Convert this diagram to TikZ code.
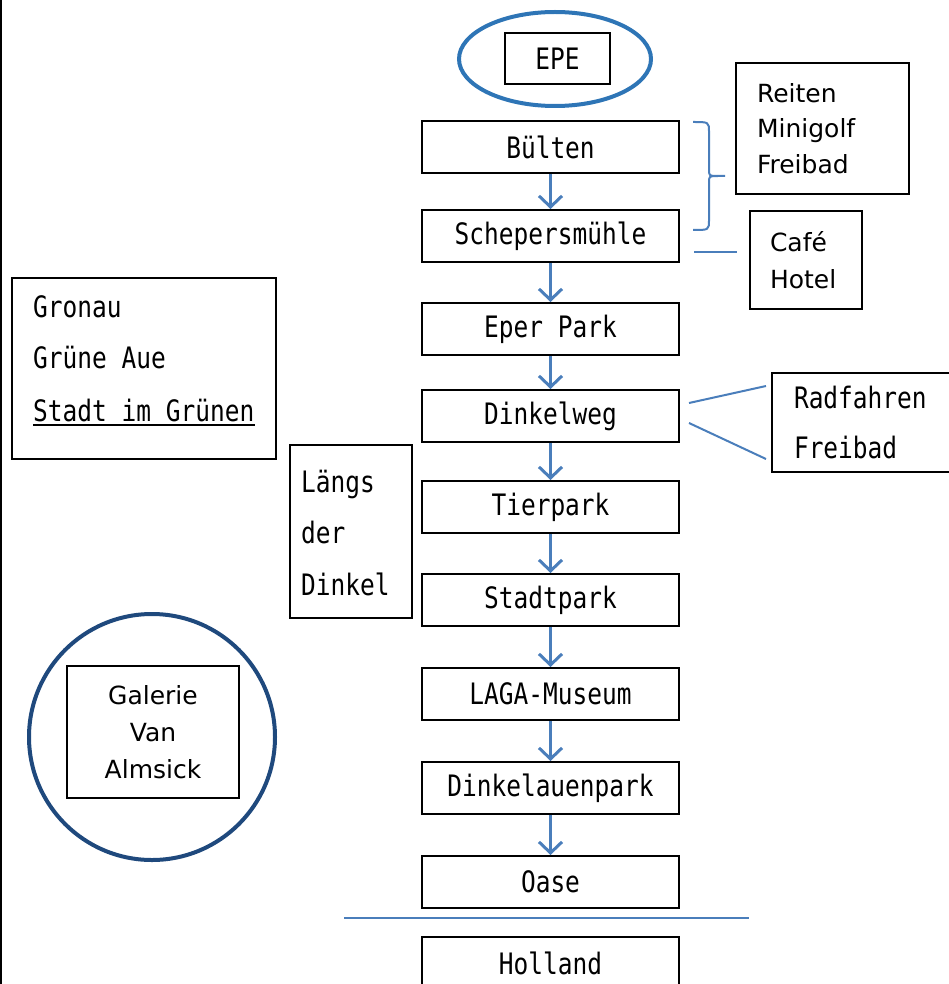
\documentclass[tikz,border=0pt]{standalone}
\usepackage{fontspec}
\setmainfont{DejaVu Sans}
\newfontfamily\flowfont[FakeStretch=0.83]{DejaVu Sans Mono}
\usetikzlibrary{shapes.geometric,arrows.meta,calc}

\definecolor{linkblue}{RGB}{74,126,187}
\definecolor{ringblue}{RGB}{46,117,182}
\definecolor{navyring}{RGB}{31,73,125}

\tikzset{
  stopbox/.style={draw, line width=2pt, minimum width=257pt, minimum height=52pt,
    inner sep=0pt, font=\flowfont\fontsize{29.5}{35}\selectfont},
  notebox/.style={draw, line width=2pt, inner ysep=0pt, anchor=north west,
    align=left, font=\fontsize{25}{35.5}\selectfont},
  flowtext/.style={anchor=base west, inner sep=0pt, font=\flowfont\fontsize{29.5}{35}\selectfont},
  flowarrow/.style={draw=linkblue, line width=3pt, -{Straight Barb[length=11pt,width=23pt]}},
  linkline/.style={draw=linkblue, line width=2pt}
}

\begin{document}
\begin{tikzpicture}[x=1pt,y=-1pt]
\useasboundingbox (0,0) rectangle (949,984);
\clip (0,0) rectangle (949,984);

% Left page border
\draw[line width=2pt] (1,0) -- (1,984);

% Start in an oval
\node[draw=ringblue, line width=4pt, ellipse, minimum width=192pt, minimum height=94pt] (epering) at (555,59) {};
\node[stopbox, minimum width=105pt, minimum height=51pt] (epe) at (557.5,58.5) {EPE};

% Route along the river
\node[stopbox] (buelten)    at (550.5,147) {Bülten};
\node[stopbox] (schepers)   at (550.5,236) {Schepersmühle};
\node[stopbox] (eperpark)   at (550.5,329) {Eper Park};
\node[stopbox] (dinkelweg)  at (550.5,416) {Dinkelweg};
\node[stopbox] (tierpark)   at (550.5,507) {Tierpark};
\node[stopbox] (stadtpark)  at (550.5,600) {Stadtpark};
\node[stopbox] (laga)       at (550.5,694) {LAGA-Museum};
\node[stopbox] (dinkelauen) at (550.5,788) {Dinkelauenpark};
\node[stopbox] (oase)       at (550.5,882) {Oase};
\node[stopbox] (holland)    at (550.5,963) {Holland};

\draw[flowarrow] (buelten.south)    -- (schepers.north);
\draw[flowarrow] (schepers.south)   -- (eperpark.north);
\draw[flowarrow] (eperpark.south)   -- (dinkelweg.north);
\draw[flowarrow] (dinkelweg.south)  -- (tierpark.north);
\draw[flowarrow] (tierpark.south)   -- (stadtpark.north);
\draw[flowarrow] (stadtpark.south)  -- (laga.north);
\draw[flowarrow] (laga.south)       -- (dinkelauen.north);
\draw[flowarrow] (dinkelauen.south) -- (oase.north);

% Border line
\coordinate (borderL) at (344,918);
\coordinate (borderR) at (749,918);
\draw[linkline] (borderL) -- (borderR);

% Side boxes on the right
\node[notebox, minimum width=173pt, minimum height=131pt, text width=131pt, inner xsep=21pt] (reiten) at (735,62) {Reiten\\Minigolf\\Freibad};
\node[notebox, minimum width=112pt, minimum height=98pt, text width=72pt, inner xsep=20pt,
  font=\fontsize{25}{37}\selectfont] (cafe) at (749,210) {Café\\Hotel};
\node[notebox, minimum width=200pt, minimum height=99pt, text width=156pt, inner xsep=22pt,
  font=\flowfont\fontsize{29.5}{50}\selectfont] (radfahren) at (771,372) {Radfahren\\Freibad};

% Brace for Bülten and Schepersmühle
\coordinate (braceA) at ($(buelten.east)+(13,-25)$);
\coordinate (braceB) at ($(schepers.east)+(13,-6)$);
\coordinate (braceTip) at (725,176);
\draw[linkline] (braceA) .. controls (709,122) .. (709,132) -- (709,169)
  .. controls (709,176) .. (718,176) -- (braceTip);
\draw[linkline] (718,176) .. controls (709,176) .. (709,183) -- (709,220)
  .. controls (709,230) .. (braceB);

% Short links
\coordinate (cafeA) at ($(schepers.east)+(14,16)$);
\coordinate (cafeB) at ($(cafeA)+(43,0)$);
\draw[linkline] (cafeA) -- (cafeB);

\coordinate (radA) at ($(dinkelweg.east)+(9,-13)$);
\coordinate (radB) at ($(radfahren.west)+(-5,-36.5)$);
\coordinate (freiA) at ($(dinkelweg.east)+(9,7)$);
\coordinate (freiB) at ($(radfahren.west)+(-5,36.5)$);
\draw[linkline] (radA) -- (radB);
\draw[linkline] (freiA) -- (freiB);

% Boxes on the left
\node[notebox, minimum width=264pt, minimum height=181pt] (gronau) at (11,277) {};
\node[flowtext] (gronauA) at (33,317) {Gronau};
\node[flowtext] (gronauB) at (33,368) {Grüne Aue};
\node[flowtext] (gronauC) at (33,421) {Stadt im Grünen};
\draw[line width=2pt] ($(gronauC.base west)+(0,4)$) -- ($(gronauC.base east)+(0,4)$);

\node[notebox, minimum width=122pt, minimum height=173pt] (laengs) at (289,444) {};
\node[flowtext] (laengsA) at (301,492) {Längs};
\node[flowtext] (laengsB) at (301,543) {der};
\node[flowtext] (laengsC) at (301,595) {Dinkel};

% Gallery in a circle
\node[draw=navyring, line width=4pt, circle, minimum size=246pt] (galring) at (152,737) {};
\node[notebox, anchor=center, align=center, minimum width=172pt, minimum height=132pt,
  font=\fontsize{25}{37}\selectfont] (galerie) at (153,732) {Galerie\\Van\\Almsick};

\end{tikzpicture}
\end{document}
